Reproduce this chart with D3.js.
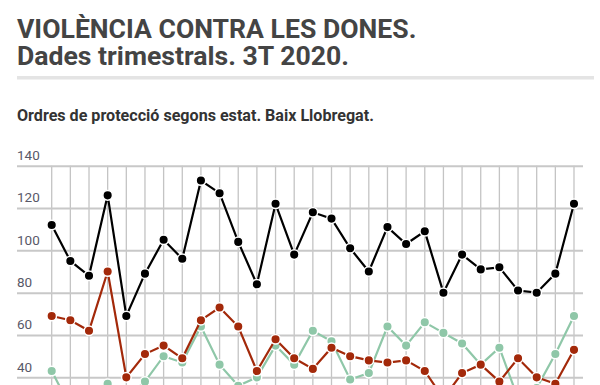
<!DOCTYPE html>
<html><head><meta charset="utf-8">
<script src="https://cdn.jsdelivr.net/npm/d3@7"></script>
<style>
html,body{margin:0;padding:0;background:#fff;overflow:hidden;}
svg{display:block;font-family:Roboto, "Noto Sans", sans-serif;}
</style></head>
<body>
<svg id="c" width="600" height="385"></svg>
<script>
const quarters = ["3T 2013","4T 2013","1T 2014","2T 2014","3T 2014","4T 2014","1T 2015","2T 2015","3T 2015","4T 2015","1T 2016","2T 2016","3T 2016","4T 2016","1T 2017","2T 2017","3T 2017","4T 2017","1T 2018","2T 2018","3T 2018","4T 2018","1T 2019","2T 2019","3T 2019","4T 2019","1T 2020","2T 2020","3T 2020"];
const totals   = [112,95,88,126,69,89,105,96,133,127,104,84,122,98,118,115,101,90,111,103,109,80,98,91,92,81,80,89,122];
const atorgades = [69,67,62,90,40,51,55,49,67,73,64,43,58,49,44,54,50,48,47,48,43,30,42,46,38,49,40,37,53];
const denegades = [43,26,28,37,30,38,50,47,64,46,36,40,55,46,62,57,39,42,64,55,66,61,56,46,54,30,35,51,69];
const yTicks = [40,60,80,100,120,140];

const svg = d3.select("#c");
const x = d3.scalePoint().domain(quarters).range([51.7, 574]);
const y = d3.scaleLinear().domain([0,140]).range([462, 165.7]);

// Titles
svg.append("text").attr("x",17).attr("y",37.5).attr("fill","#444").attr("font-size",26.6).attr("font-weight",700)
  .text("VIOLÈNCIA CONTRA LES DONES.");
svg.append("text").attr("x",17).attr("y",65).attr("fill","#444").attr("font-size",26.6).attr("font-weight",700)
  .text("Dades trimestrals. 3T 2020.");
svg.append("rect").attr("x",17).attr("y",76).attr("width",577).attr("height",3.5).attr("fill","#e4e4e4");
svg.append("text").attr("x",17).attr("y",121).attr("fill","#333").attr("font-size",16.1).attr("font-weight",700)
  .text("Ordres de protecció segons estat. Baix Llobregat.");

// vertical grid
svg.append("g").selectAll("line").data(quarters).join("line")
  .attr("x1",d=>x(d)).attr("x2",d=>x(d)).attr("y1",y(140)).attr("y2",y(0))
  .attr("stroke","#c4c4c4").attr("stroke-width",1.3);

// horizontal grid + labels
const gy = svg.append("g").attr("transform","translate(583,0)");
gy.call(d3.axisLeft(y).tickValues(yTicks).tickSize(583-17).tickFormat(d3.format("d")));
gy.select(".domain").remove();
gy.selectAll(".tick line").attr("stroke","#c8c8c8").attr("stroke-width",2);
gy.selectAll(".tick text").attr("x",-(583-17)).attr("dy","-0.45em").attr("text-anchor","start")
  .attr("fill","#585868").attr("font-size",13.5).attr("font-family","Roboto, sans-serif");

const series = [
  {name:"Denegades", values:denegades, color:"#8fc7a8"},
  {name:"Atorgades", values:atorgades, color:"#a3290a"},
  {name:"Total", values:totals, color:"#000000"}
];
const line = d3.line().x((d,i)=>x(quarters[i])).y(d=>y(d));
series.forEach(s=>{
  const g = svg.append("g");
  g.append("path").datum(s.values).attr("d",line).attr("fill","none").attr("stroke",s.color).attr("stroke-width",2.2);
  g.selectAll("circle").data(s.values).join("circle")
    .attr("cx",(d,i)=>x(quarters[i])).attr("cy",d=>y(d)).attr("r",4.8)
    .attr("fill",s.color).attr("stroke","#fff").attr("stroke-width",1.5);
});
</script>
</body></html>
